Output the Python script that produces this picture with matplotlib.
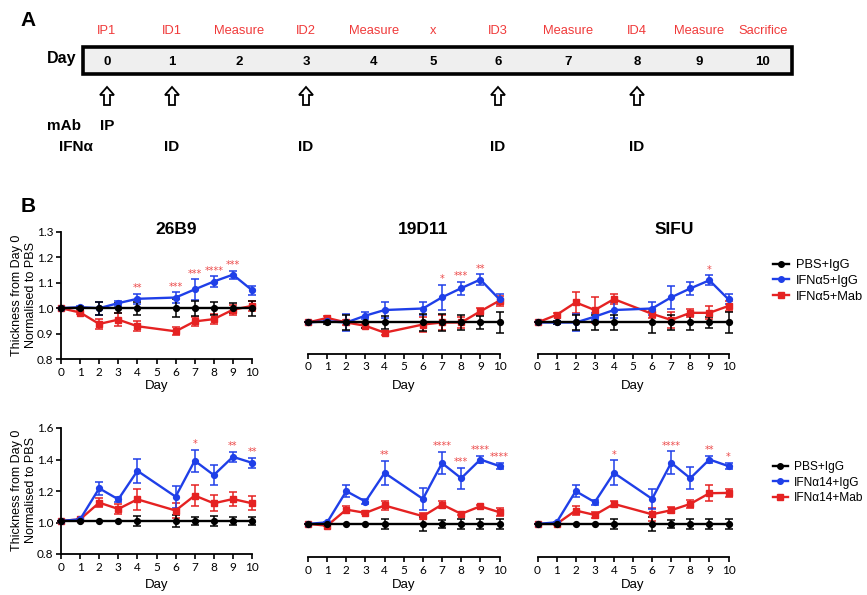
import matplotlib
matplotlib.use('Agg')
import matplotlib.pyplot as plt
from matplotlib.patches import Rectangle, FancyArrow
from matplotlib.lines import Line2D

# ---------------- data ----------------
# Panel A (schedule)
sched_days = ['0', '1', '2', '3', '4', '5', '6', '7', '8', '9', '10']
sched_events = ['IP1', 'ID1', 'Measure', 'ID2', 'Measure', 'x', 'ID3', 'Measure', 'ID4', 'Measure', 'Sacrifice']
arrow_slots = [0, 1, 3, 6, 8]
mab_slots = [0]
ifn_slots = [1, 3, 6, 8]

# Panel B
days = [0, 1, 2, 3, 4, 6, 7, 8, 9, 10]
xtick_days = [0, 1, 2, 3, 4, 5, 6, 7, 8, 9, 10]
titles = ['26B9', '19D11', 'SIFU']
legend_top = ['PBS+IgG', 'IFNα5+IgG', 'IFNα5+Mab']
legend_bot = ['PBS+IgG', 'IFNα14+IgG', 'IFNα14+Mab']

# top row (IFNa5)
pbs_t = [1.00, 1.00, 1.00, 1.00, 1.00, 1.00, 1.00, 1.00, 1.00, 1.00]
pbs_t_err = {
    '26B9': [0, 0.005, 0.025, 0.02, 0.025, 0.035, 0.03, 0.025, 0.02, 0.03],
    '19D11': [0, 0.005, 0.03, 0.02, 0.025, 0.035, 0.035, 0.03, 0.025, 0.04],
    'SIFU': [0, 0.005, 0.03, 0.03, 0.03, 0.04, 0.03, 0.03, 0.02, 0.04],
}
blue_t = {
    '26B9': [1.00, 1.004, 1.00, 1.02, 1.037, 1.042, 1.074, 1.105, 1.132, 1.071],
    '19D11': [1.00, 1.005, 1.00, 1.027, 1.049, 1.055, 1.099, 1.135, 1.169, 1.091],
    'SIFU': [1.00, 1.00, 1.00, 1.023, 1.049, 1.055, 1.099, 1.134, 1.166, 1.091],
}
blue_t_err = {
    '26B9': [0, 0.005, 0.025, 0.01, 0.02, 0.02, 0.04, 0.02, 0.016, 0.018],
    '19D11': [0, 0.005, 0.032, 0.013, 0.03, 0.025, 0.049, 0.026, 0.02, 0.02],
    'SIFU': [0, 0.005, 0.035, 0.015, 0.03, 0.025, 0.045, 0.025, 0.02, 0.02],
}
red_t = {
    '26B9': [1.00, 0.983, 0.938, 0.955, 0.929, 0.909, 0.948, 0.957, 0.994, 1.009],
    '19D11': [1.00, 1.018, 1.00, 0.987, 0.96, 0.992, 1.00, 1.00, 1.044, 1.086],
    'SIFU': [1.00, 1.03, 1.079, 1.049, 1.092, 1.034, 1.01, 1.038, 1.038, 1.065],
}
red_t_err = {
    '26B9': [0, 0.005, 0.02, 0.025, 0.02, 0.016, 0.017, 0.02, 0.02, 0.02],
    '19D11': [0, 0.006, 0.01, 0.01, 0.008, 0.03, 0.03, 0.02, 0.013, 0.02],
    'SIFU': [0, 0.006, 0.04, 0.05, 0.02, 0.015, 0.03, 0.015, 0.025, 0.02],
}
stars_t = {
    '26B9': ([4, 6, 7, 8, 9], ['**', '***', '***', '****', '***']),
    '19D11': ([7, 8, 9], ['*', '***', '**']),
    'SIFU': ([9], ['*']),
}

# bottom row (IFNa14)
pbs_b = [1.01, 1.01, 1.01, 1.01, 1.01, 1.01, 1.01, 1.01, 1.01, 1.01]
pbs_b_err = {
    '26B9': [0, 0, 0, 0, 0.03, 0.04, 0.025, 0.03, 0.025, 0.025],
    '19D11': [0, 0, 0, 0, 0.03, 0.045, 0.025, 0.03, 0.03, 0.03],
    'SIFU': [0, 0, 0, 0, 0.03, 0.045, 0.025, 0.03, 0.03, 0.03],
}
blue_b = {
    '26B9': [1.01, 1.02, 1.217, 1.147, 1.328, 1.164, 1.392, 1.301, 1.417, 1.379],
    '19D11': [1.01, 1.02, 1.218, 1.152, 1.334, 1.169, 1.396, 1.30, 1.419, 1.377],
    'SIFU': [1.01, 1.02, 1.218, 1.148, 1.334, 1.169, 1.398, 1.30, 1.419, 1.377],
}
blue_b_err = {
    '26B9': [0, 0.005, 0.04, 0.015, 0.075, 0.07, 0.07, 0.065, 0.03, 0.03],
    '19D11': [0, 0.005, 0.04, 0.015, 0.076, 0.07, 0.07, 0.067, 0.025, 0.02],
    'SIFU': [0, 0.005, 0.04, 0.015, 0.08, 0.065, 0.072, 0.07, 0.025, 0.02],
}
red_b = {
    '26B9': [1.01, 1.02, 1.126, 1.086, 1.147, 1.076, 1.171, 1.122, 1.149, 1.122],
    '19D11': [1.01, 0.999, 1.101, 1.08, 1.127, 1.059, 1.133, 1.074, 1.122, 1.084],
    'SIFU': [1.01, 1.01, 1.095, 1.067, 1.137, 1.071, 1.097, 1.137, 1.205, 1.207],
}
red_b_err = {
    '26B9': [0, 0.005, 0.03, 0.03, 0.065, 0.045, 0.065, 0.05, 0.045, 0.045],
    '19D11': [0, 0.005, 0.02, 0.01, 0.03, 0.02, 0.02, 0.01, 0.008, 0.025],
    'SIFU': [0, 0.005, 0.03, 0.02, 0.02, 0.04, 0.02, 0.025, 0.05, 0.025],
}
stars_b = {
    '26B9': ([7, 9, 10], ['*', '**', '**']),
    '19D11': ([4, 7, 8, 9, 10], ['**', '****', '***', '****', '****']),
    'SIFU': ([4, 7, 9, 10], ['*', '****', '**', '*']),
}

# ---------------- style ----------------
W, H = 867, 595
BLUE = '#1f3fe8'
RED = '#e52222'
STAR = '#ec4a4a'
LABRED = '#f03a3a'
SANS = ['Liberation Sans', 'DejaVu Sans']
NARROW = ['Liberation Sans Narrow', 'Liberation Sans', 'DejaVu Sans']
TICKF = ['Lato', 'DejaVu Sans']

fig = plt.figure(figsize=(W / 100, H / 100), dpi=100)


def rect(l, r, t, b):
    return [l / W, 1 - b / H, (r - l) / W, (b - t) / H]


# ---------------- panel A (pixel overlay) ----------------
axA = fig.add_axes([0, 0, 1, 1])
axA.set_xlim(0, W)
axA.set_ylim(H, 0)
axA.axis('off')
slot_x = [107, 172, 239, 306, 374, 433, 498, 568, 637, 699, 763]

axA.text(28, 20, 'A', fontsize=15, fontweight='bold', family=SANS, ha='center', va='center')
axA.add_patch(Rectangle((83, 47), 709, 27, facecolor='#efefef', edgecolor='black', lw=2.6))
axA.text(62, 59, 'Day', fontsize=11.5, fontweight='bold', family=SANS, ha='center', va='center')
for x, d, e in zip(slot_x, sched_days, sched_events):
    axA.text(x, 62, d, fontsize=9.5, fontweight='bold', family=NARROW, ha='center', va='center')
    axA.text(x, 31, e, fontsize=9.3, color=LABRED, family=SANS, ha='center', va='center')
for i in arrow_slots:
    axA.add_patch(FancyArrow(slot_x[i], 105, 0, -18, width=6, head_width=14, head_length=8,
                             length_includes_head=True, facecolor='white', edgecolor='black', lw=1.3))
axA.text(64, 126, 'mAb', fontsize=11, fontweight='bold', family=SANS, ha='center', va='center')
axA.text(76, 147, 'IFNα', fontsize=11, fontweight='bold', family=SANS, ha='center', va='center')
for i in mab_slots:
    axA.text(slot_x[i], 126, 'IP', fontsize=11, fontweight='bold', family=SANS, ha='center', va='center')
for i in ifn_slots:
    axA.text(slot_x[i], 147, 'ID', fontsize=11, fontweight='bold', family=SANS, ha='center', va='center')

axA.text(28, 207, 'B', fontsize=15, fontweight='bold', family=SANS, ha='center', va='center')

# ---------------- panel B ----------------
top_rects = {'26B9': rect(61, 252, 232, 359), '19D11': rect(308, 499.5, 232, 353.5),
             'SIFU': rect(537.5, 728.5, 232, 353.5)}
bot_rects = {'26B9': rect(61, 252, 428, 554), '19D11': rect(308, 499.5, 431, 557),
             'SIFU': rect(537.5, 728.5, 431, 557)}
top_ylim = {'26B9': (0.8, 1.3), '19D11': (0.878, 1.356), 'SIFU': (0.878, 1.356)}
bot_ylim = {'26B9': (0.8, 1.6), '19D11': (0.8, 1.6), 'SIFU': (0.8, 1.6)}
title_x = {'26B9': 176, '19D11': 423, 'SIFU': 674}


def draw(ax, pbs, pbs_e, blue, blue_e, red, red_e, stars, ylim, show_y, yticks):
    kw = dict(lw=1.7, capsize=2.6, elinewidth=1.1, capthick=1.1, ms=4.2)
    conts = []
    conts.append(ax.errorbar(days, red, yerr=red_e, color=RED, marker='s', **kw))
    conts.append(ax.errorbar(days, blue, yerr=blue_e, color=BLUE, marker='o', **kw))
    conts.append(ax.errorbar(days, pbs, yerr=pbs_e, color='black', marker='o', **kw))
    for c in conts:
        for ch in c.get_children():
            ch.set_clip_on(False)
    sd, st = stars
    for d, t in zip(sd, st):
        i = days.index(d)
        ax.annotate(t, (d, blue[i] + blue_e[i]), xytext=(0, 0.5), textcoords='offset points',
                    ha='center', va='bottom', color=STAR, fontsize=7, family=['DejaVu Sans'])
    ax.set_xlim(0, 10)
    ax.set_ylim(*ylim)
    ax.set_xticks(xtick_days)
    ax.set_xticklabels([str(d) for d in xtick_days], family=TICKF)
    for s in ['top', 'right']:
        ax.spines[s].set_visible(False)
    ax.spines['bottom'].set_linewidth(1.3)
    ax.spines['left'].set_linewidth(1.3)
    ax.tick_params(direction='out', length=3.5, width=1.2, labelsize=8.5, pad=2)
    if show_y:
        ax.set_yticks(yticks)
        ax.set_yticklabels(['%.1f' % v for v in yticks], family=TICKF)
    else:
        ax.spines['left'].set_visible(False)
        ax.set_yticks([])
    ax.patch.set_alpha(0)


for name in titles:
    ax = fig.add_axes(top_rects[name])
    draw(ax, pbs_t, pbs_t_err[name], blue_t[name], blue_t_err[name], red_t[name], red_t_err[name],
         stars_t[name], top_ylim[name], name == '26B9', [0.8, 0.9, 1.0, 1.1, 1.2, 1.3])
    fig.text(title_x[name] / W, 1 - 229 / H, name, fontsize=12.5, fontweight='bold', family=SANS,
             ha='center', va='center')
    r = top_rects[name]
    fig.text(r[0] + r[2] / 2, 1 - 386 / H, 'Day', fontsize=9.5, family=SANS, ha='center', va='center')

    ax2 = fig.add_axes(bot_rects[name])
    draw(ax2, pbs_b, pbs_b_err[name], blue_b[name], blue_b_err[name], red_b[name], red_b_err[name],
         stars_b[name], bot_ylim[name], name == '26B9', [0.8, 1.0, 1.2, 1.4, 1.6])
    r = bot_rects[name]
    fig.text(r[0] + r[2] / 2, 1 - 585 / H, 'Day', fontsize=9.5, family=SANS, ha='center', va='center')

for yc in (295, 490):
    fig.text(24 / W, 1 - yc / H, 'Thickness from Day 0\nNormalised to PBS', rotation=90, fontsize=9,
             family=SANS, ha='center', va='center', linespacing=1.2)


def handles():
    return [Line2D([], [], color='black', marker='o', ms=4, lw=1.7),
            Line2D([], [], color=BLUE, marker='o', ms=4, lw=1.7),
            Line2D([], [], color=RED, marker='s', ms=4, lw=1.7)]


for labels, ytop, fs in ((legend_top, 259, 9.3), (legend_bot, 461, 8.6)):
    fig.legend(handles(), labels, loc='upper left', bbox_to_anchor=(773 / W, 1 - ytop / H),
               frameon=False, prop={'family': SANS, 'size': fs}, handlelength=1.25,
               handletextpad=0.5, labelspacing=0.3, borderpad=0, borderaxespad=0)

fig.savefig('out.png', dpi=100)
